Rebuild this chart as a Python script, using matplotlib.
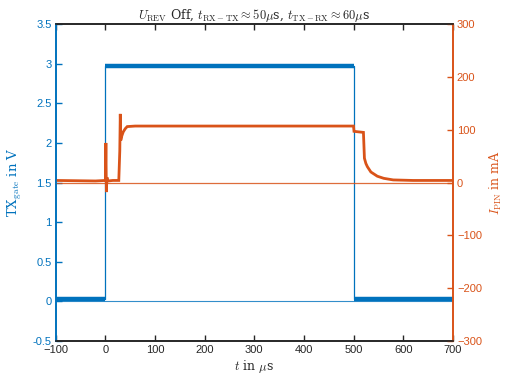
"""
TXgate-Spannung und PIN-Strom über der Zeit (U_REV aus), Doppel-y-Achse im MATLAB-Stil.
"""

import matplotlib

matplotlib.use("Agg")
import matplotlib.pyplot as plt

# ---------------------------------------------------------------------------
# Daten
# ---------------------------------------------------------------------------
# TXgate in V: Pegel vor / während / nach dem Puls
tx_t = [-100, 0, 0, 500, 500, 700]
tx_v = [0.03, 0.03, 2.97, 2.97, 0.03, 0.03]

# I_PIN in mA
ipin_t = [-100, -20, 0, 1, 2, 3, 5, 15, 27, 29, 30, 31, 33, 36, 40, 44,
          60, 150, 300, 450, 500, 501, 510, 520, 522, 525, 528, 535, 548,
          561, 580, 620, 700]
ipin_v = [4, 3, 4, 75, -18, 10, 3, 4, 4, 60, 130, 80, 88, 96, 102, 106,
          107, 107, 107, 107, 107, 97, 96, 95, 46, 36, 30, 20, 12,
          8, 5, 4, 4]

# Nulllinien (Referenz)
ref_t = [-100, 700]
ref_v = [0, 0]

x_ticks = list(range(-100, 701, 100))
tx_ticks = [-0.5, 0, 0.5, 1, 1.5, 2, 2.5, 3, 3.5]
ipin_ticks = [-300, -200, -100, 0, 100, 200, 300]

BLUE = "#0072BD"
ORANGE = "#D95319"
DARK = "#262626"

plt.rcParams["font.family"] = ["Liberation Sans", "DejaVu Sans"]
plt.rcParams["mathtext.fontset"] = "cm"

fig = plt.figure(figsize=(5.07, 3.77), dpi=100)
ax = fig.add_axes([0.110, 0.0955, 0.783, 0.8405])
ax2 = ax.twinx()

# TXgate: dünne Flanken + breites Rauschband auf den Pegeln
ax.plot(ref_t, ref_v, color=BLUE, lw=0.8, alpha=0.8)
ax.plot(tx_t, tx_v, color=BLUE, lw=0.9)
for i in (0, 2, 4):
    ax.plot(tx_t[i:i + 2], tx_v[i:i + 2], color=BLUE, lw=3.2,
            solid_capstyle="butt")

# I_PIN
ax2.plot(ref_t, ref_v, color=ORANGE, lw=0.9, alpha=0.85)
ax2.plot(ipin_t, ipin_v, color=ORANGE, lw=2.0, solid_joinstyle="miter")

ax.set_xlim(-100, 700)
ax.set_ylim(-0.5, 3.5)
ax2.set_ylim(-300, 300)
ax.set_xticks(x_ticks)
ax.set_yticks(tx_ticks)
ax.set_yticklabels([f"{v:g}" for v in tx_ticks])
ax2.set_yticks(ipin_ticks)

ax.tick_params(axis="x", direction="in", top=True, length=4, width=1,
               colors=DARK, labelsize=8, pad=3)
ax.tick_params(axis="y", direction="in", length=4, width=1,
               colors=BLUE, labelsize=8, pad=3)
ax2.tick_params(axis="y", direction="in", length=4, width=1,
                colors=ORANGE, labelsize=8, pad=3)

for a in (ax, ax2):
    a.spines["top"].set_color(DARK)
    a.spines["bottom"].set_color(DARK)
    a.spines["left"].set_color(BLUE)
    a.spines["right"].set_color(ORANGE)
    for s in a.spines.values():
        s.set_linewidth(1.2)

ax.set_xlabel(r"$t$ in $\mu$s", fontsize=9, color=DARK, family="serif",
              labelpad=2)
ax.set_ylabel(r"TX$_\mathrm{gate}$ in V", fontsize=9.5, color=BLUE,
              family="serif", labelpad=6)
ax2.set_ylabel(r"$I_\mathrm{PIN}$ in mA", fontsize=9, color=ORANGE,
               family="serif", labelpad=4)
ax.set_title(r"$U_\mathrm{REV}$ Off, $t_\mathrm{RX-TX} \approx 50\mu$s, "
             r"$t_\mathrm{TX-RX} \approx 60\mu$s",
             fontsize=9, color=DARK, family="serif", pad=2)

fig.savefig("out.png", dpi=100)
